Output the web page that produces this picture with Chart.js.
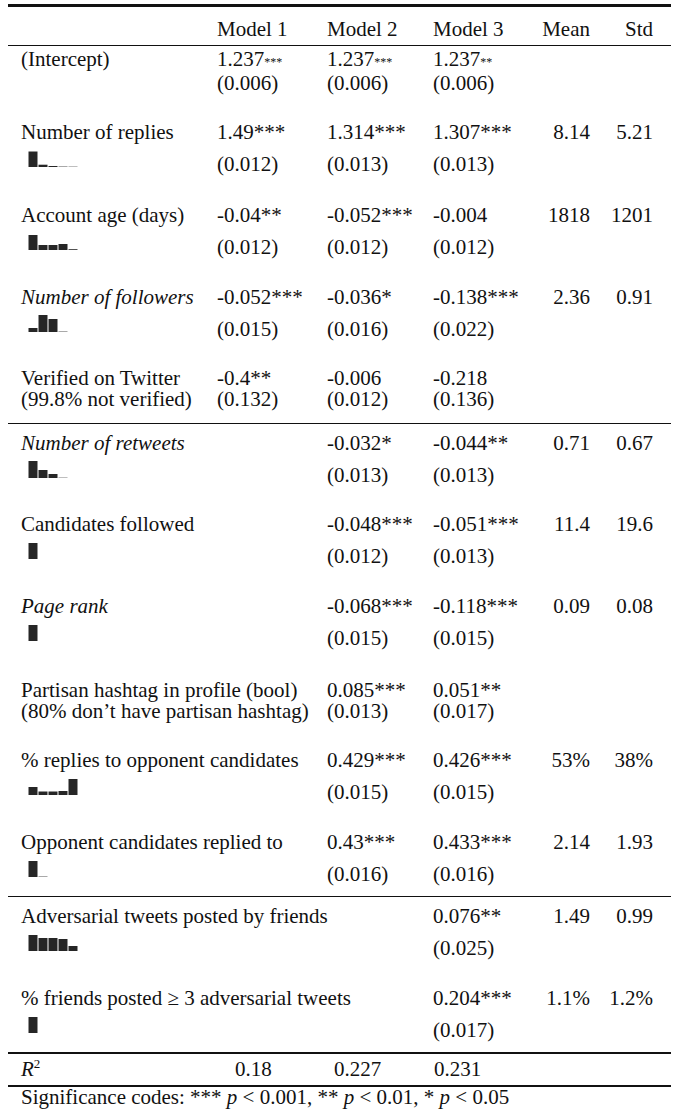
<!DOCTYPE html>
<html>
<head>
<meta charset="utf-8">
<title>Regression table</title>
<script src="https://cdn.jsdelivr.net/npm/chart.js@4.4.1/dist/chart.umd.min.js"></script>
<style>
    html, body { margin: 0; padding: 0; background: #fff; }
    #sheet {
        position: relative;
        width: 675px;
        height: 1115px;
        overflow: hidden;
        font-family: "Liberation Serif", "DejaVu Serif", serif;
        font-size: 21px;
        color: #111;
    }
    .t { position: absolute; white-space: nowrap; line-height: 20px; }
    .t.two { line-height: 21px; }
    .rule { position: absolute; left: 8px; width: 663px; background: #111; }
    .spark { position: absolute; left: 28px; }
    .small { font-size: 12px; }
</style>
</head>
<body>
<div id="sheet"></div>
<script>
// Variables (rows of the table)
const variableNames = [
    '(Intercept)',
    'Number of replies',
    'Account age (days)',
    'Number of followers',
    'Verified on Twitter',
    'Number of retweets',
    'Candidates followed',
    'Page rank',
    'Partisan hashtag in profile (bool)',
    '% replies to opponent candidates',
    'Opponent candidates replied to',
    'Adversarial tweets posted by friends',
    '% friends posted \u2265 3 adversarial tweets'
];
const variableNotes = ['', '', '', '', '(99.8% not verified)', '', '', '', '(80% don\u2019t have partisan hashtag)', '', '', '', ''];
const italicNames = ['Number of followers', 'Number of retweets', 'Page rank'];

// Coefficients and standard errors per model
const model1Coef = ['1.237***', '1.49***', '-0.04**', '-0.052***', '-0.4**', '', '', '', '', '', '', '', ''];
const model1Err  = ['(0.006)', '(0.012)', '(0.012)', '(0.015)', '(0.132)', '', '', '', '', '', '', '', ''];
const model2Coef = ['1.237***', '1.314***', '-0.052***', '-0.036*', '-0.006', '-0.032*', '-0.048***', '-0.068***', '0.085***', '0.429***', '0.43***', '', ''];
const model2Err  = ['(0.006)', '(0.013)', '(0.012)', '(0.016)', '(0.012)', '(0.013)', '(0.012)', '(0.015)', '(0.013)', '(0.015)', '(0.016)', '', ''];
const model3Coef = ['1.237**', '1.307***', '-0.004', '-0.138***', '-0.218', '-0.044**', '-0.051***', '-0.118***', '0.051**', '0.426***', '0.433***', '0.076**', '0.204***'];
const model3Err  = ['(0.006)', '(0.013)', '(0.012)', '(0.022)', '(0.136)', '(0.013)', '(0.013)', '(0.015)', '(0.017)', '(0.015)', '(0.016)', '(0.025)', '(0.017)'];

const meanValues = ['', '8.14', '1818', '2.36', '', '0.71', '11.4', '0.09', '', '53%', '2.14', '1.49', '1.1%'];
const stdValues  = ['', '5.21', '1201', '0.91', '', '0.67', '19.6', '0.08', '', '38%', '1.93', '0.99', '1.2%'];
const rSquared = ['0.18', '0.227', '0.231'];

// Sparkline histograms (relative bar heights)
const histBins = ['1', '2', '3', '4', '5'];
const histReplies     = [15.5, 2.3, 1, 0.4, 0.3];
const histAccountAge  = [15, 5, 5, 6, 0.8];
const histFollowers   = [4, 17, 13, 0.4, 0];
const histRetweets    = [17, 8, 4, 0.3, 0];
const histCandidates  = [16, 0, 0, 0, 0];
const histPageRank    = [16, 0, 0, 0, 0];
const histOppShare    = [8, 3.5, 3.5, 4, 16];
const histOpponents   = [16, 0.4, 0, 0, 0];
const histAdversarial = [16, 13, 13, 12, 5];
const histFriends     = [16, 0, 0, 0, 0];
const rowHistograms = [null, histReplies, histAccountAge, histFollowers, null, histRetweets,
    histCandidates, histPageRank, null, histOppShare, histOpponents, histAdversarial, histFriends];

// Layout
const rowBaselines = [67, 139, 222, 304, 386, 450, 531, 613, 698, 767, 849, 923, 1005];
const labelX = 21;
const modelX = [217, 327, 433];
const meanRight = 590;
const stdRight = 653;
const ascent = 17.1;
const sheet = document.getElementById('sheet');

document.addEventListener('DOMContentLoaded', function() {
    drawRules();
    drawHeader();
    drawRows();
    drawFooter();
});

// Put a piece of text so that its (first) baseline sits at y
function addText(html, x, baseline, opts) {
    opts = opts || {};
    const el = document.createElement('div');
    el.className = opts.two ? 't two' : 't';
    el.innerHTML = html;
    el.style.top = (baseline - (opts.two ? ascent + 0.5 : ascent)) + 'px';
    if (opts.right) {
        el.style.right = (675 - x) + 'px';
    } else {
        el.style.left = x + 'px';
    }
    if (opts.italic) el.style.fontStyle = 'italic';
    sheet.appendChild(el);
    return el;
}

function addRule(y, thickness) {
    const el = document.createElement('div');
    el.className = 'rule';
    el.style.top = y + 'px';
    el.style.height = thickness + 'px';
    sheet.appendChild(el);
}

function drawRules() {
    addRule(4, 2.5);
    addRule(45, 1.3);
    addRule(423, 1.3);
    addRule(896, 1.3);
    addRule(1052, 1.6);
    addRule(1085, 2);
}

function drawHeader() {
    addText('Model 1', modelX[0], 36);
    addText('Model 2', modelX[1], 36);
    addText('Model 3', modelX[2], 36);
    addText('Mean', meanRight, 36, { right: true });
    addText('Std', stdRight, 36, { right: true });
}

// Intercept stars are set smaller
function formatCoef(value, small) {
    const m = value.match(/^([^*]*)(\**)$/);
    if (!m[2]) return m[1];
    return small ? m[1] + '<span class="small">' + m[2] + '</span>' : value;
}

function drawRows() {
    const coefs = [model1Coef, model2Coef, model3Coef];
    const errs = [model1Err, model2Err, model3Err];

    variableNames.forEach(function(name, i) {
        const base = rowBaselines[i];
        const hist = rowHistograms[i];
        const italic = italicNames.includes(name);

        if (hist) {
            // label, sparkline below, standard error on a lower line
            addText(name, labelX, base, { italic: italic });
            coefs.forEach(function(col, m) {
                if (col[i]) addText(formatCoef(col[i], false), modelX[m], base);
                if (errs[m][i]) addText(errs[m][i], modelX[m], base + 32);
            });
            drawSparkline(hist, base + 28);
        } else {
            // two tight lines: label + note, coefficient + error
            const label = variableNotes[i] ? name + '<br>' + variableNotes[i] : name;
            addText(label, labelX, base, { italic: italic, two: true });
            coefs.forEach(function(col, m) {
                if (col[i]) addText(formatCoef(col[i], i === 0) + '<br>' + errs[m][i], modelX[m], base, { two: true });
            });
        }

        if (meanValues[i]) addText(meanValues[i], meanRight, base, { right: true });
        if (stdValues[i]) addText(stdValues[i], stdRight, base, { right: true });
    });
}

// Small histogram under a variable name
function drawSparkline(values, bottom) {
    const canvas = document.createElement('canvas');
    canvas.className = 'spark';
    canvas.width = 50;
    canvas.height = 17;
    canvas.style.width = '50px';
    canvas.style.height = '17px';
    canvas.style.top = (bottom - 17) + 'px';
    sheet.appendChild(canvas);

    new Chart(canvas.getContext('2d'), {
        type: 'bar',
        data: {
            labels: histBins,
            datasets: [{
                data: values,
                backgroundColor: '#262626',
                borderWidth: 0,
                barPercentage: 0.9,
                categoryPercentage: 1
            }]
        },
        options: {
            responsive: false,
            animation: false,
            devicePixelRatio: 1,
            layout: { padding: 0 },
            plugins: {
                legend: { display: false },
                tooltip: { enabled: false }
            },
            scales: {
                x: { display: false },
                y: { display: false, min: 0, max: 17 }
            }
        }
    });
}

function drawFooter() {
    addText('<i>R</i><sup style="font-size:13px;line-height:0">2</sup>', labelX, 1076);
    addText(rSquared[0], 235, 1076);
    addText(rSquared[1], 334, 1076);
    addText(rSquared[2], 434, 1076);
    addText('Significance codes: *** <i>p</i> &lt; 0.001, ** <i>p</i> &lt; 0.01, * <i>p</i> &lt; 0.05', labelX, 1104);
}
</script>
</body>
</html>
